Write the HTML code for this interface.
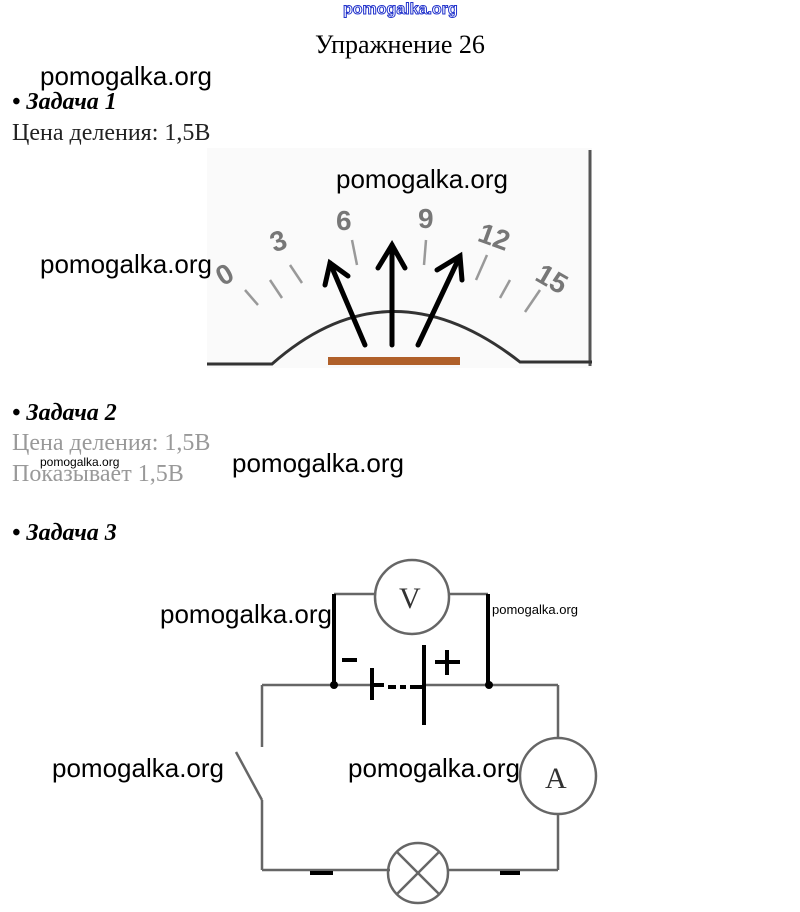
<!DOCTYPE html>
<html><head><meta charset="utf-8"><style>
body{margin:0;width:800px;height:912px;background:#fff;position:relative;overflow:hidden;font-family:"Liberation Serif",serif;}
.t{position:absolute;white-space:nowrap;}
.w{font-family:"Liberation Sans","DejaVu Sans",sans-serif;color:#000;}
</style></head><body>
<div class="t w" style="left:343px;top:1px;font-size:16px;color:#fff;-webkit-text-stroke:1px #2233cc;font-weight:bold;">pomogalka.org</div>
<div class="t" style="left:315px;top:30px;font-size:26px;">Упражнение 26</div>
<div class="t w" style="left:40px;top:61px;font-size:26px;">pomogalka.org</div>
<div class="t" style="left:12px;top:89px;font-size:24px;font-weight:bold;font-style:italic;">• Задача 1</div>
<div class="t" style="left:12px;top:120px;font-size:24px;color:#222;">Цена деления: 1,5В</div>

<svg style="position:absolute;left:0;top:0" width="800" height="912">
<rect x="207" y="148" width="385" height="220" fill="#fafafa"/>
<line x1="590" y1="150" x2="590" y2="366" stroke="#555" stroke-width="3"/>
<path d="M207 364 H272 Q390 260 520 362 H592" fill="none" stroke="#333" stroke-width="3"/>
<rect x="328" y="357" width="132" height="8" fill="#b0602a"/>
<g stroke="#999" stroke-width="2.5">
<line x1="245" y1="290" x2="258" y2="305"/><line x1="270" y1="280" x2="282" y2="298"/><line x1="290" y1="265" x2="302" y2="283"/>
<line x1="352" y1="240" x2="357" y2="265"/><line x1="426" y1="240" x2="424" y2="265"/><line x1="487" y1="255" x2="476" y2="280"/>
<line x1="510" y1="280" x2="500" y2="298"/><line x1="540" y1="290" x2="525" y2="312"/>
</g>
<g font-family="Liberation Sans,sans-serif" font-size="28" fill="#777" font-weight="bold">
<text x="216" y="282" transform="rotate(-30 228 272)">0</text>
<text x="271" y="250" transform="rotate(-20 280 242)">3</text>
<text x="336" y="230">6</text>
<text x="418" y="228">9</text>
<text x="478" y="245" transform="rotate(20 490 238)">12</text>
<text x="538" y="287" transform="rotate(30 550 275)">15</text>
</g>
<g stroke="#000" stroke-width="5" fill="none" stroke-linecap="round">
<line x1="365" y1="345" x2="330" y2="263"/><polyline points="325,285 330,263 348,276"/>
<line x1="392" y1="345" x2="392" y2="245"/><polyline points="378,268 392,245 405,268"/>
<line x1="418" y1="345" x2="460" y2="256"/><polyline points="437,270 460,256 462,280"/>
</g>
<g stroke="#666" stroke-width="2.5" fill="none">
<line x1="334" y1="594" x2="375" y2="594"/><line x1="449" y1="594" x2="488" y2="594"/>
<circle cx="412" cy="597" r="37"/>
<line x1="262" y1="685" x2="372" y2="685"/><line x1="424" y1="685" x2="558" y2="685"/>
<line x1="262" y1="685" x2="262" y2="747"/>
<line x1="236" y1="752" x2="262" y2="800"/>
<line x1="262" y1="800" x2="262" y2="870"/>
<line x1="262" y1="870" x2="390" y2="870"/><line x1="448" y1="870" x2="558" y2="870"/>
<line x1="558" y1="685" x2="558" y2="737"/><line x1="558" y1="815" x2="558" y2="870"/>
<circle cx="558" cy="776" r="38"/>
<circle cx="418" cy="873" r="30"/>
<line x1="397" y1="852" x2="439" y2="894"/><line x1="439" y1="852" x2="397" y2="894"/>
</g>
<g stroke="#000" stroke-width="4">
<line x1="334" y1="594" x2="334" y2="685"/><line x1="488" y1="594" x2="488" y2="685"/>
<line x1="372" y1="668" x2="372" y2="700"/><line x1="424" y1="645" x2="424" y2="725"/>
<line x1="372" y1="685" x2="384" y2="685"/><line x1="388" y1="687" x2="396" y2="687"/><line x1="400" y1="687" x2="406" y2="687"/><line x1="410" y1="687" x2="424" y2="687"/>
<line x1="310" y1="873" x2="333" y2="873"/><line x1="500" y1="873" x2="520" y2="873"/>
<line x1="342" y1="660" x2="357" y2="660"/><line x1="435" y1="662" x2="460" y2="662"/><line x1="447" y1="650" x2="447" y2="675"/>
</g>
<circle cx="334" cy="685" r="4"/><circle cx="489" cy="685" r="4"/>
<g font-family="Liberation Serif,serif" font-size="30" fill="#333"><text x="399" y="608">V</text><text x="545" y="788">A</text></g>
</svg>

<div class="t w" style="left:336px;top:164px;font-size:26px;">pomogalka.org</div>
<div class="t w" style="left:40px;top:249px;font-size:26px;">pomogalka.org</div>
<div class="t" style="left:12px;top:400px;font-size:24px;font-weight:bold;font-style:italic;">• Задача 2</div>
<div class="t" style="left:12px;top:430px;font-size:24px;color:#999;">Цена деления: 1,5В</div>
<div class="t" style="left:12px;top:461px;font-size:24px;color:#999;">Показывает 1,5В</div>
<div class="t w" style="left:40px;top:455px;font-size:12px;">pomogalka.org</div>
<div class="t w" style="left:232px;top:448px;font-size:26px;">pomogalka.org</div>
<div class="t" style="left:12px;top:520px;font-size:24px;font-weight:bold;font-style:italic;">• Задача 3</div>
<div class="t w" style="left:160px;top:599px;font-size:26px;">pomogalka.org</div>
<div class="t w" style="left:492px;top:602px;font-size:13px;">pomogalka.org</div>
<div class="t w" style="left:52px;top:753px;font-size:26px;">pomogalka.org</div>
<div class="t w" style="left:348px;top:753px;font-size:26px;">pomogalka.org</div>
</body></html>
